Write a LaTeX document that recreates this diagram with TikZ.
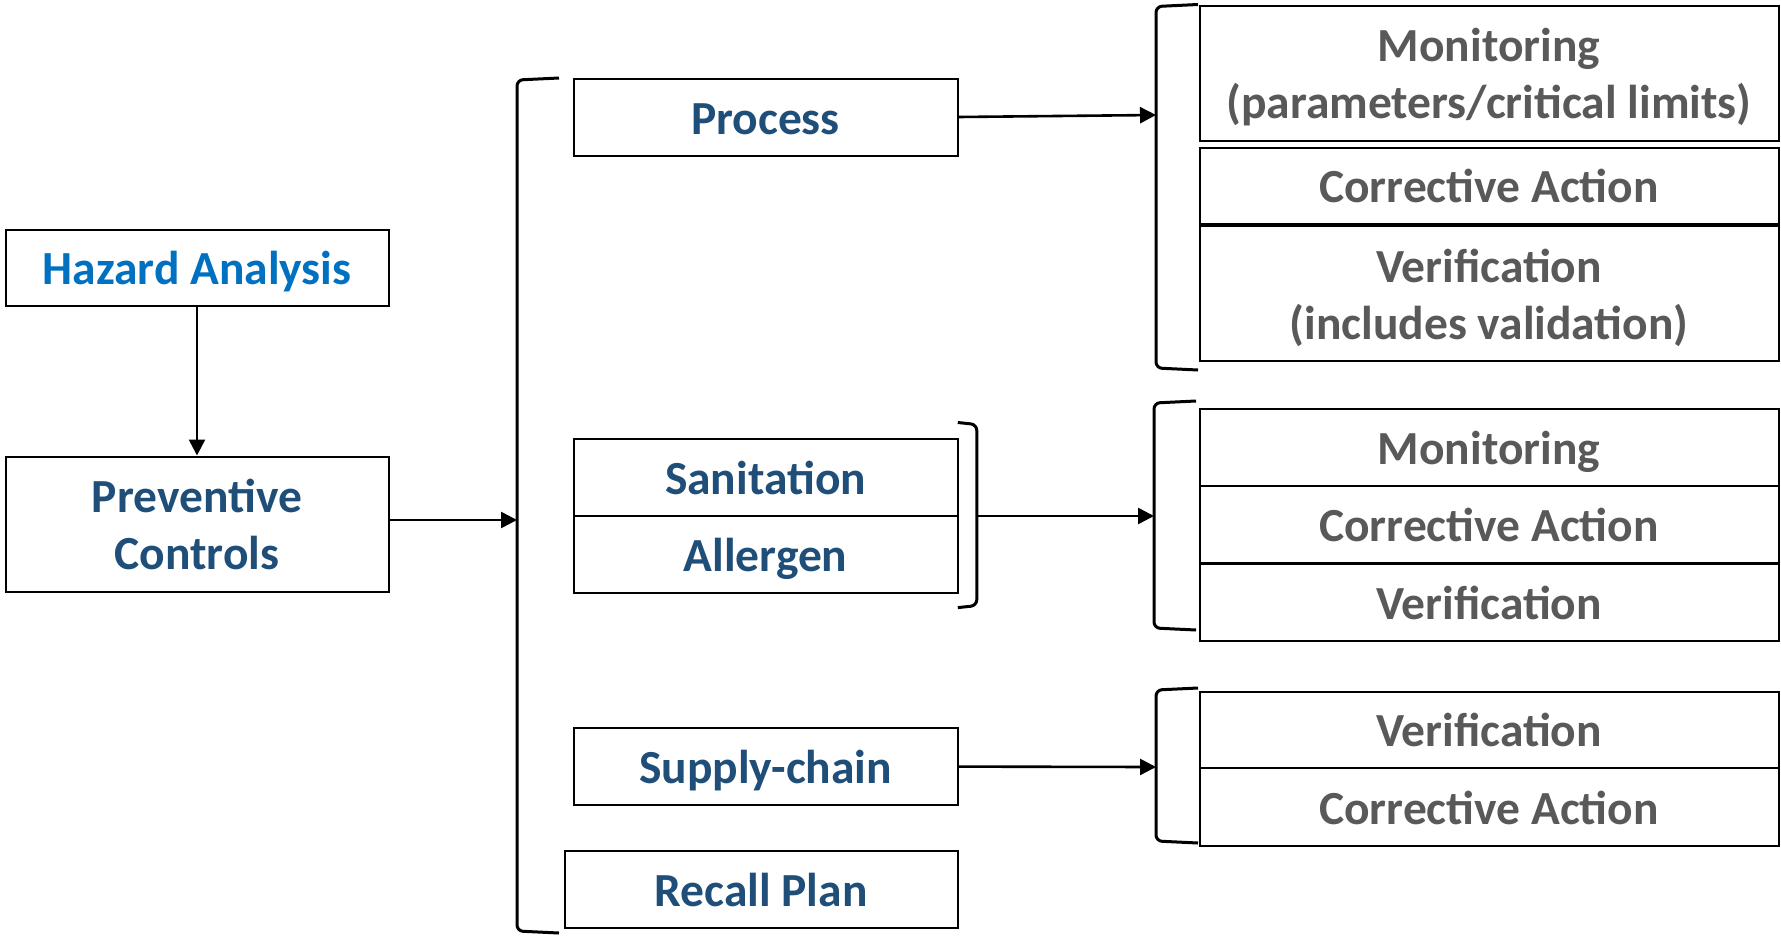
\documentclass[tikz,border=0pt]{standalone}
\usepackage{fontspec}
\setmainfont{Carlito}
\usetikzlibrary{arrows.meta}
\definecolor{hablue}{HTML}{0070C0}
\definecolor{navy}{HTML}{1F4E79}
\definecolor{txtgray}{HTML}{595959}
% bracket opening to the right: x, top, bottom
\newcommand\brackL[3]{
	\draw [line width=1.5pt, rounded corners=3pt] (#1+42,#2) -- (#1,#2+2) -- (#1,#3-2) -- (#1+42,#3);
}
% bracket opening to the left: x, top, bottom
\newcommand\brackR[3]{
	\draw [line width=1.5pt, rounded corners=3pt] (#1-19,#2) -- (#1,#2+2) -- (#1,#3-2) -- (#1-19,#3);
}

\begin{document}
\begin{tikzpicture}[x=0.5pt, y=-0.5pt,
	box/.style={draw, line width=1pt, inner sep=0pt, align=center,
		font=\fontsize{23.75}{28.4}\selectfont\bfseries, text=navy,
		text height=20pt, text depth=3pt,
		minimum width=192pt, minimum height=38.5pt},
	two/.style={text height=48.4pt, text depth=3pt, minimum height=67.5pt},
	left/.style={box, minimum width=191.5pt},
	right/.style={box, text=txtgray, minimum width=289.5pt},
	arr/.style={line width=1.3pt, -{Triangle[length=8pt, width=8pt]}}]
	\useasboundingbox (0,0) rectangle (1781,937);
	
	% left column
	\node[left, text=hablue, minimum height=38pt] (ha) at (197,267.5) {Hazard Analysis};
	\node[left, two] (pc) at (197,524) {Preventive\\Controls};
	\draw [arr] (ha) -- (pc);
	
	% controls
	\node[box] (proc) at (765.5,117) {Process};
	\node[box] (san) at (765.5,477) {Sanitation};
	\node[box] (all) at (765.5,554.3) {Allergen};
	\node[box] (sup) at (765.5,766.6) {Supply-chain};
	\node[box, minimum width=196.5pt] (rec) at (761,889.4) {Recall Plan};
	
	% brackets
	\brackL{517}{78}{933}
	\brackR{976.8}{422.5}{607.6}
	\brackL{1156}{4.5}{370}
	\brackL{1154}{401}{630}
	\brackL{1156}{688}{843}
	\coordinate (b0) at (517,520);
	\coordinate (bsa) at (976.8,516);
	\coordinate (b1) at (1156,115);
	\coordinate (b2) at (1154,516);
	\coordinate (b3) at (1156,767);
	
	% process steps
	\node[right, two] (mon1) at (1489,73.3) {Monitoring\\(parameters/critical limits)};
	\node[right, minimum height=38pt] (ca1) at (1489,185.8) {Corrective Action};
	\node[right, two] (ver1) at (1489,293.6) {Verification\\(includes validation)};
	\node[right] (mon2) at (1489,447.5) {Monitoring};
	\node[right] (ca2) at (1489,524.8) {Corrective Action};
	\node[right] (ver2) at (1489,602) {Verification};
	\node[right, minimum height=38pt] (ver3) at (1489,729.8) {Verification};
	\node[right, minimum height=39pt] (ca3) at (1489,807) {Corrective Action};
	
	% arrows
	\draw [arr] (pc.east |- b0) -- (b0);
	\draw [arr] (proc.east) -- (b1);
	\draw [arr] (bsa) -- (b2);
	\draw [arr] (sup.east) -- (b3);
\end{tikzpicture}
\end{document}
